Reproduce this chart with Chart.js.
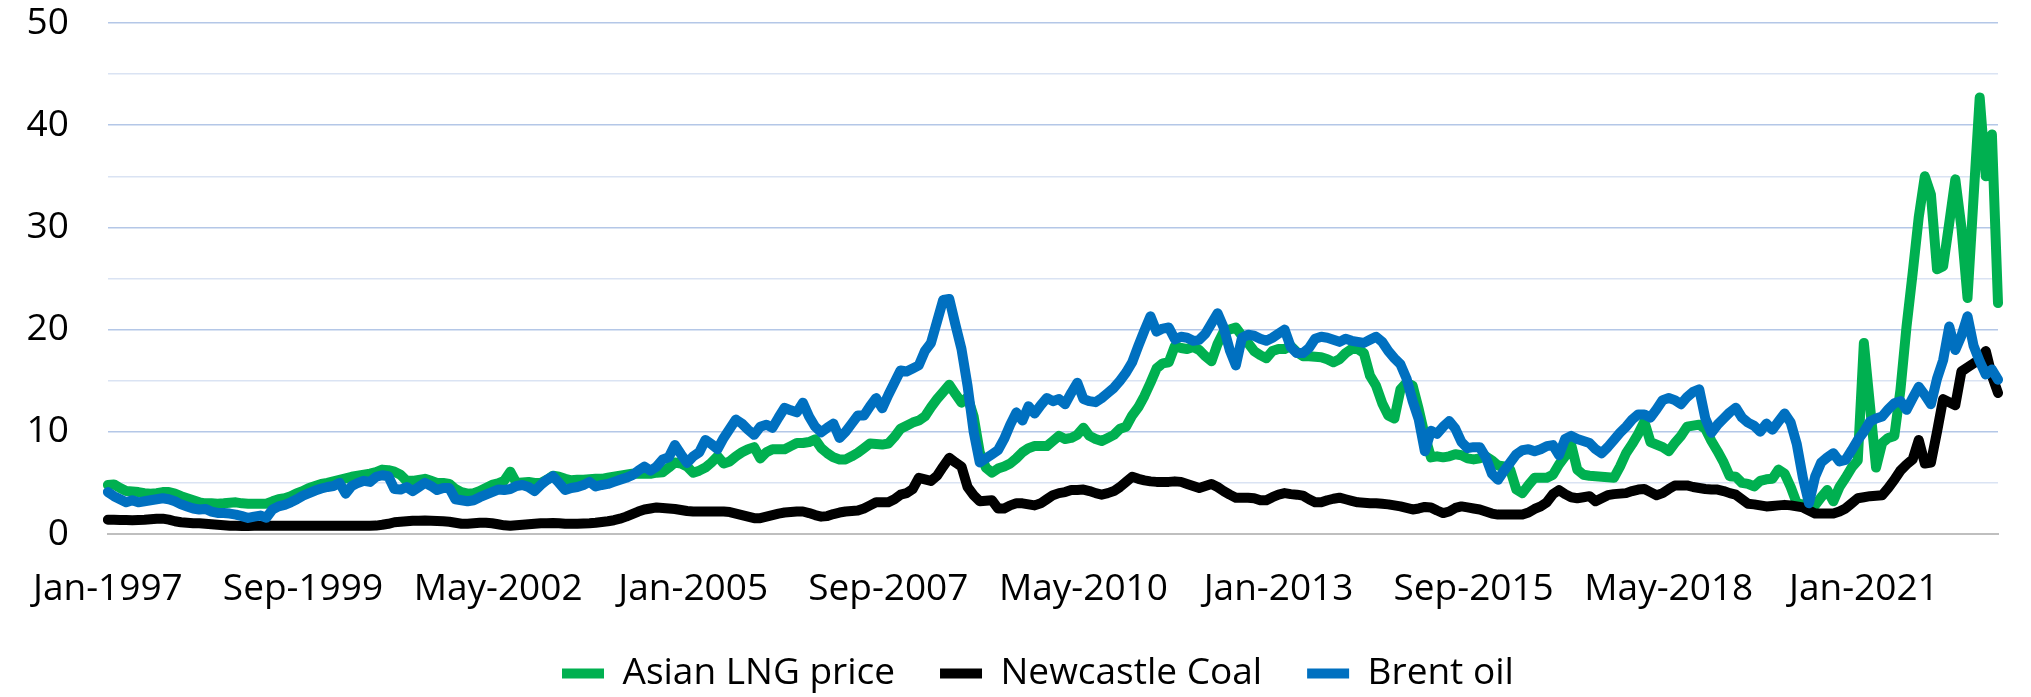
<!DOCTYPE html>
<html>
<head>
<meta charset="utf-8">
<script src="https://cdn.jsdelivr.net/npm/chart.js@4.4.1/dist/chart.umd.min.js"></script>
<style>
html,body{margin:0;padding:0;background:#ffffff;}
canvas{display:block;}
</style>
</head>
<body>
<canvas id="c" width="2031" height="697"></canvas>
<script>
// ---- categories: monthly, Jan-1997 .. Nov-2022 ----
const monthNames = ['Jan','Feb','Mar','Apr','May','Jun','Jul','Aug','Sep','Oct','Nov','Dec'];
const startYear = 1997;
const monthCount = 311;
const tickEvery = 32; // Jan-1997, Sep-1999, May-2002, ... Jan-2021
const categories = [];
for (let i = 0; i < monthCount; i++) {
  categories.push(monthNames[i % 12] + '-' + (startYear + Math.floor(i / 12)));
}

// ---- series ($/MMBtu) ----
const lngPrice = [
  4.8,4.85,4.5,4.2,4.15,4.1,4.0,3.95,4.0,4.1,
  4.1,3.95,3.7,3.5,3.3,3.1,3.0,3.0,2.97,3.0,
  3.05,3.1,3.0,2.97,2.97,2.97,2.97,3.2,3.4,3.5,
  3.7,4.0,4.2,4.5,4.7,4.9,5.0,5.15,5.3,5.45,
  5.6,5.7,5.8,5.9,6.05,6.3,6.25,6.1,5.8,5.2,
  5.2,5.3,5.4,5.2,5.0,5.0,4.9,4.4,4.1,3.95,
  4.0,4.2,4.5,4.8,4.95,5.2,6.1,5.0,5.05,5.1,
  5.0,5.0,5.3,5.7,5.6,5.4,5.25,5.3,5.3,5.35,
  5.4,5.4,5.5,5.6,5.7,5.8,5.9,5.9,5.9,5.9,
  6.0,6.05,6.5,7.0,6.9,6.6,6.0,6.2,6.5,7.0,
  7.6,6.9,7.1,7.6,8.0,8.3,8.5,7.4,8.0,8.3,
  8.3,8.3,8.6,8.9,8.9,9.0,9.25,8.4,7.9,7.5,
  7.3,7.3,7.6,7.95,8.4,8.85,8.8,8.75,8.85,9.5,
  10.3,10.6,10.9,11.1,11.5,12.4,13.2,13.9,14.6,13.7,
  12.85,13.4,11.5,8.0,6.5,6.0,6.4,6.6,6.9,7.4,
  8.0,8.4,8.6,8.6,8.6,9.1,9.6,9.3,9.4,9.7,
  10.4,9.6,9.3,9.1,9.4,9.7,10.3,10.5,11.6,12.4,
  13.5,14.8,16.2,16.7,16.8,18.4,18.2,18.1,18.3,18.0,
  17.4,16.9,18.6,19.8,20.0,20.2,19.4,18.7,17.9,17.5,
  17.2,17.9,18.1,18.1,18.4,17.8,17.4,17.4,17.35,17.3,
  17.1,16.8,17.1,17.7,18.1,18.1,17.7,15.5,14.5,12.8,
  11.6,11.3,14.15,14.8,14.5,12.2,9.6,7.5,7.6,7.5,
  7.6,7.8,7.7,7.4,7.3,7.4,7.6,7.2,6.7,6.6,
  6.3,4.35,4.0,4.8,5.5,5.5,5.5,5.8,6.8,7.6,
  8.75,6.3,5.8,5.7,5.65,5.6,5.55,5.5,6.6,7.9,
  8.8,9.8,11.0,9.0,8.75,8.5,8.1,8.9,9.6,10.5,
  10.6,10.7,10.3,9.1,8.1,7.0,5.65,5.6,5.0,4.9,
  4.65,5.2,5.35,5.4,6.3,5.9,4.6,3.0,2.9,2.8,
  2.8,3.6,4.3,3.2,4.6,5.5,6.5,7.2,18.7,12.6,
  6.5,8.9,9.4,9.6,14.1,20.3,25.5,31.0,35.0,33.2,
  25.9,26.2,30.4,34.7,30.0,23.1,33.0,42.7,35.0,39.1,22.6
];

const newcastleCoal = [
  1.4,1.4,1.38,1.36,1.35,1.37,1.4,1.45,1.5,1.5,
  1.4,1.25,1.15,1.1,1.05,1.05,1.0,0.95,0.9,0.85,
  0.8,0.8,0.78,0.78,0.8,0.8,0.8,0.8,0.8,0.8,
  0.8,0.8,0.8,0.8,0.8,0.8,0.8,0.8,0.8,0.8,
  0.8,0.8,0.8,0.8,0.82,0.9,1.0,1.15,1.2,1.25,
  1.3,1.3,1.32,1.3,1.28,1.25,1.2,1.1,1.0,1.0,
  1.05,1.1,1.1,1.05,0.95,0.85,0.8,0.85,0.9,0.95,
  1.0,1.05,1.05,1.08,1.05,1.0,1.0,1.0,1.02,1.05,
  1.1,1.18,1.25,1.35,1.5,1.7,1.95,2.2,2.4,2.5,
  2.6,2.55,2.5,2.45,2.35,2.25,2.2,2.2,2.2,2.2,
  2.2,2.2,2.15,2.0,1.85,1.7,1.55,1.55,1.7,1.85,
  2.0,2.1,2.15,2.2,2.2,2.05,1.85,1.7,1.75,1.95,
  2.1,2.2,2.25,2.3,2.5,2.8,3.1,3.1,3.1,3.4,
  3.85,4.0,4.4,5.5,5.35,5.2,5.7,6.6,7.45,7.0,
  6.6,4.6,3.8,3.2,3.25,3.3,2.5,2.5,2.8,3.0,
  3.0,2.9,2.8,3.0,3.4,3.8,4.0,4.1,4.3,4.3,
  4.35,4.2,4.0,3.85,4.0,4.2,4.6,5.1,5.6,5.4,
  5.25,5.15,5.1,5.1,5.1,5.15,5.1,4.9,4.7,4.5,
  4.7,4.9,4.6,4.2,3.85,3.55,3.55,3.55,3.5,3.3,
  3.3,3.6,3.85,4.0,3.9,3.85,3.75,3.4,3.1,3.1,
  3.3,3.45,3.55,3.4,3.25,3.1,3.05,3.0,3.0,2.95,
  2.9,2.8,2.7,2.55,2.4,2.5,2.65,2.6,2.3,2.05,
  2.2,2.55,2.7,2.6,2.5,2.4,2.2,2.0,1.9,1.9,
  1.9,1.9,1.9,2.1,2.45,2.7,3.1,3.9,4.3,3.9,
  3.6,3.5,3.6,3.7,3.2,3.5,3.8,3.9,3.95,4.0,
  4.2,4.35,4.4,4.1,3.8,4.0,4.4,4.75,4.75,4.75,
  4.6,4.5,4.4,4.35,4.35,4.2,4.0,3.85,3.4,2.95,
  2.9,2.8,2.7,2.75,2.8,2.85,2.8,2.7,2.6,2.3,
  2.0,2.0,2.0,2.0,2.2,2.5,3.0,3.5,3.6,3.7,
  3.75,3.8,4.5,5.3,6.2,6.8,7.3,9.2,6.9,7.0,
  10.0,13.2,12.9,12.6,15.9,16.3,16.7,17.0,17.9,15.5,13.8
];

const brentOil = [
  4.1,3.7,3.4,3.1,3.3,3.1,3.2,3.3,3.4,3.5,
  3.4,3.2,2.9,2.7,2.5,2.4,2.45,2.2,2.06,2.06,
  2.0,1.9,1.75,1.57,1.7,1.8,1.6,2.4,2.7,2.85,
  3.1,3.4,3.75,4.0,4.25,4.45,4.6,4.7,5.0,3.95,
  4.7,5.0,5.2,5.1,5.6,5.75,5.65,4.4,4.35,4.6,
  4.2,4.6,5.0,4.7,4.3,4.5,4.5,3.4,3.3,3.2,
  3.3,3.6,3.85,4.1,4.35,4.3,4.4,4.7,4.8,4.6,
  4.2,4.8,5.3,5.65,5.0,4.3,4.5,4.6,4.8,5.1,
  4.65,4.8,4.9,5.1,5.3,5.5,5.75,6.2,6.6,6.2,
  6.6,7.3,7.5,8.7,7.8,6.95,7.6,8.0,9.2,8.8,
  8.3,9.4,10.3,11.2,10.8,10.2,9.7,10.5,10.7,10.4,
  11.4,12.35,12.1,11.9,12.85,11.5,10.5,9.95,10.4,10.8,
  9.4,10.0,10.8,11.6,11.6,12.5,13.3,12.3,13.6,14.8,
  16.0,15.9,16.2,16.5,17.9,18.7,20.8,22.9,23.0,20.5,
  18.1,14.5,10.0,7.0,7.4,7.8,8.2,9.3,10.7,11.9,
  11.1,12.5,11.8,12.6,13.3,13.0,13.2,12.7,13.8,14.8,
  13.2,13.0,12.9,13.3,13.8,14.3,15.0,15.8,16.8,18.4,
  19.9,21.3,19.8,20.1,20.2,19.05,19.3,19.2,18.9,19.0,
  19.6,20.6,21.6,20.2,18.0,16.5,19.2,19.5,19.4,19.1,
  18.9,19.2,19.6,20.0,18.3,17.7,17.7,18.2,19.1,19.3,
  19.2,19.0,18.8,19.1,18.9,18.8,18.7,19.0,19.3,18.8,
  17.9,17.2,16.6,15.2,13.0,11.2,8.1,10.1,9.8,10.5,
  11.05,10.3,9.0,8.4,8.5,8.5,7.5,5.9,5.3,6.2,
  7.0,7.8,8.2,8.3,8.1,8.3,8.6,8.7,7.7,9.3,
  9.6,9.3,9.1,8.9,8.3,7.9,8.5,9.2,9.9,10.5,
  11.2,11.7,11.7,11.4,12.2,13.1,13.3,13.1,12.7,13.4,
  13.9,14.15,11.3,9.9,10.7,11.3,11.9,12.35,11.4,10.9,
  10.6,10.0,10.8,10.2,11.0,11.8,10.9,8.8,5.5,3.0,
  5.6,7.0,7.5,7.9,7.1,7.25,8.2,9.2,10.0,11.0,
  11.3,11.5,12.2,12.8,13.0,12.15,13.3,14.4,13.6,12.7,
  15.2,17.0,20.3,18.0,19.4,21.3,18.4,16.9,15.6,16.1,15.1
];

const seriesNames = ['Asian LNG price', 'Newcastle Coal', 'Brent oil'];
const seriesColors = ['#00B050', '#000000', '#0070C0'];
const yMin = 0, yMax = 50, yStep = 5, yLabelEvery = 10;

// ---- styling ----
const FONT = { family: "'Open Sans', 'DejaVu Sans', sans-serif", size: 37 };
const LINE_W = 10;
const X_AXIS_H = 80;
const LEGEND_H = 83;
const LEGEND_PAD = 45;
const LEGEND_TEXT_CENTER_Y = 673.5;
const LEGEND_FIRST_BOX_X = 562;

const legendFix = {
  id: 'legendFix',
  afterInit(chart) {
    const L = chart.legend;
    if (!L) return;
    const origFit = L.fit.bind(L);
    L.fit = function () { origFit(); this.height = LEGEND_H; };
  },
  afterLayout(chart) {
    const L = chart.legend;
    if (!L) return;
    const fs = FONT.size;
    L.top = LEGEND_TEXT_CENTER_Y - fs / 2 - LEGEND_PAD;
    L.bottom = chart.height;
    L.left = LEGEND_FIRST_BOX_X - LEGEND_PAD;
    L.right = chart.width;
    L.width = L.right - L.left;
    L.height = L.bottom - L.top;
  }
};

function makeDataset(i, data, order) {
  return {
    label: seriesNames[i],
    data: data,
    borderColor: seriesColors[i],
    backgroundColor: seriesColors[i],
    borderWidth: LINE_W,
    borderCapStyle: 'round',
    borderJoinStyle: 'round',
    tension: 0,
    fill: false,
    pointRadius: 0,
    pointHoverRadius: 0,
    pointHitRadius: 0,
    order: order
  };
}

const ctx = document.getElementById('c').getContext('2d');
new Chart(ctx, {
  type: 'line',
  data: {
    labels: categories,
    datasets: [
      makeDataset(0, lngPrice, 3),
      makeDataset(1, newcastleCoal, 2),
      makeDataset(2, brentOil, 1)
    ]
  },
  options: {
    responsive: false,
    animation: false,
    devicePixelRatio: 1,
    layout: { padding: { top: 23, right: 1, left: 0, bottom: 0 } },
    plugins: {
      legend: {
        position: 'bottom',
        align: 'start',
        labels: {
          usePointStyle: true,
          pointStyle: 'line',
          pointStyleWidth: 42,
          padding: LEGEND_PAD,
          color: '#000000',
          font: FONT,
          sort: (a, b) => a.datasetIndex - b.datasetIndex
        }
      },
      tooltip: { enabled: false }
    },
    scales: {
      x: {
        type: 'category',
        offset: false,
        grid: { display: false, drawTicks: false },
        border: { display: true, color: '#BFBFBF', width: 2 },
        ticks: {
          autoSkip: false,
          maxRotation: 0,
          minRotation: 0,
          padding: 33,
          color: '#000000',
          font: FONT,
          callback: function (v, i) { return i % tickEvery === 0 ? this.getLabelForValue(v) : ''; }
        },
        afterFit: (s) => { s.height = X_AXIS_H; }
      },
      y: {
        min: yMin,
        max: yMax,
        grid: {
          drawTicks: false,
          lineWidth: 1.5,
          color: (c) => {
            const v = c.tick ? c.tick.value : 1;
            if (v === 0) return 'rgba(0,0,0,0)';
            return v % yLabelEvery === 0 ? '#B4C7E7' : '#DAE3F3';
          }
        },
        border: { display: false },
        ticks: {
          stepSize: yStep,
          padding: 39,
          color: '#000000',
          font: FONT,
          callback: (v) => (v % yLabelEvery === 0 ? String(v) : '')
        },
        afterFit: (s) => { s.width = 102; s.paddingTop = 0; s.paddingBottom = 0; }
      }
    }
  },
  plugins: [legendFix]
});
</script>
</body>
</html>
